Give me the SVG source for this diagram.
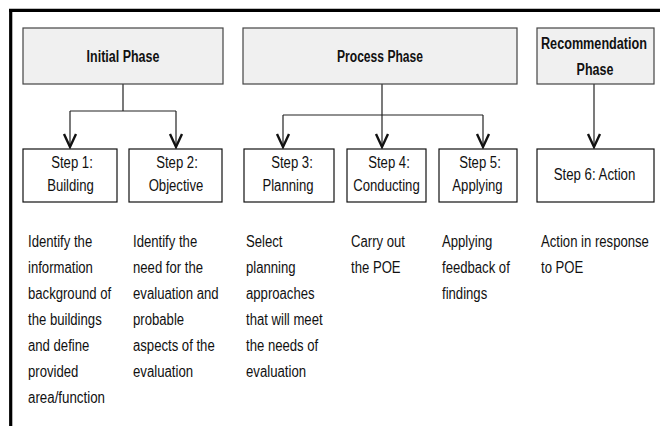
<svg xmlns="http://www.w3.org/2000/svg" width="660" height="426" viewBox="0 0 660 426">
<defs>
<style>
text{font-family:"Liberation Sans Narrow","Liberation Sans",Arial,sans-serif;font-size:16px;fill:#111}
.title{font-weight:bold;text-anchor:middle}
.step{text-anchor:middle}
.phase{fill:#f0f0f0;stroke:#444;stroke-width:1.2}
.box{fill:#fff;stroke:#111;stroke-width:1.2}
.conn{fill:none;stroke:#222;stroke-width:1.2}
.arr{fill:none;stroke:#222;stroke-width:1.2;marker-end:url(#v)}
</style>
<marker id="v" markerUnits="userSpaceOnUse" markerWidth="20" markerHeight="20" refX="0" refY="0" viewBox="-12 -10 14 20" orient="auto" overflow="visible">
<path d="M-13,-6 L0,0 L-13,6" fill="none" stroke="#111" stroke-width="2.4"/>
</marker>
</defs>
<g id="frame">
<line x1="9" y1="10.3" x2="660" y2="10.3" stroke="#000" stroke-width="3.2"/>
<line x1="10.7" y1="9" x2="10.7" y2="426" stroke="#000" stroke-width="3.2"/>
</g>
<g id="connectors">
<path class="conn" d="M123,84 V111 M70,111 H176"/>
<path class="arr" d="M70,111 V147"/>
<path class="arr" d="M176,111 V147"/>
<path class="conn" d="M283,115 H483"/>
<path class="arr" d="M382,84 V147"/>
<path class="arr" d="M283,115 V147"/>
<path class="arr" d="M483,115 V147"/>
<path class="arr" d="M594,84 V147"/>
</g>
<g id="initial-phase">
<rect class="phase" x="23" y="28" width="200" height="56"/>
<text class="title" x="123" y="62" textLength="72.8" lengthAdjust="spacingAndGlyphs">Initial Phase</text>
</g>
<g id="process-phase">
<rect class="phase" x="243" y="28" width="274" height="56"/>
<text class="title" x="380" y="62" textLength="86" lengthAdjust="spacingAndGlyphs">Process Phase</text>
</g>
<g id="recommendation-phase">
<rect class="phase" x="537" y="28" width="117" height="56"/>
<text class="title" x="594" y="49" textLength="106" lengthAdjust="spacingAndGlyphs">Recommendation</text>
<text class="title" x="595" y="75" textLength="36.8" lengthAdjust="spacingAndGlyphs">Phase</text>
</g>
<g id="step1">
<rect class="box" x="23" y="149" width="94" height="53"/>
<text class="step" x="72" y="168" textLength="41.6" lengthAdjust="spacingAndGlyphs">Step 1:</text>
<text class="step" x="70.5" y="191" textLength="46.7" lengthAdjust="spacingAndGlyphs">Building</text>
</g>
<g id="step2">
<rect class="box" x="129" y="149" width="93" height="53"/>
<text class="step" x="177" y="168" textLength="41.6" lengthAdjust="spacingAndGlyphs">Step 2:</text>
<text class="step" x="176" y="191" textLength="54.7" lengthAdjust="spacingAndGlyphs">Objective</text>
</g>
<g id="step3">
<rect class="box" x="244" y="149" width="90" height="53"/>
<text class="step" x="292" y="168" textLength="41.6" lengthAdjust="spacingAndGlyphs">Step 3:</text>
<text class="step" x="288" y="191" textLength="51.1" lengthAdjust="spacingAndGlyphs">Planning</text>
</g>
<g id="step4">
<rect class="box" x="347" y="149" width="79" height="53"/>
<text class="step" x="389" y="168" textLength="41.6" lengthAdjust="spacingAndGlyphs">Step 4:</text>
<text class="step" x="386.5" y="191" textLength="66.4" lengthAdjust="spacingAndGlyphs">Conducting</text>
</g>
<g id="step5">
<rect class="box" x="439" y="149" width="78" height="53"/>
<text class="step" x="480" y="168" textLength="41.6" lengthAdjust="spacingAndGlyphs">Step 5:</text>
<text class="step" x="477.5" y="191" textLength="50.3" lengthAdjust="spacingAndGlyphs">Applying</text>
</g>
<g id="step6">
<rect class="box" x="537" y="149" width="117" height="53"/>
<text class="step" x="594.5" y="180" textLength="81.7" lengthAdjust="spacingAndGlyphs">Step 6: Action</text>
</g>
<g id="desc1">
<text x="28" y="247" textLength="64.2" lengthAdjust="spacingAndGlyphs">Identify the</text>
<text x="28" y="273" textLength="64.9" lengthAdjust="spacingAndGlyphs">information</text>
<text x="28" y="299" textLength="83.1" lengthAdjust="spacingAndGlyphs">background of</text>
<text x="28" y="325" textLength="73.7" lengthAdjust="spacingAndGlyphs">the buildings</text>
<text x="28" y="351" textLength="61.3" lengthAdjust="spacingAndGlyphs">and define</text>
<text x="28" y="377" textLength="50.3" lengthAdjust="spacingAndGlyphs">provided</text>
<text x="28" y="403" textLength="77" lengthAdjust="spacingAndGlyphs">area/function</text>
</g>
<g id="desc2">
<text x="133" y="247" textLength="64.2" lengthAdjust="spacingAndGlyphs">Identify the</text>
<text x="133" y="273" textLength="70" lengthAdjust="spacingAndGlyphs">need for the</text>
<text x="133" y="299" textLength="85.6" lengthAdjust="spacingAndGlyphs">evaluation and</text>
<text x="133" y="325" textLength="51.1" lengthAdjust="spacingAndGlyphs">probable</text>
<text x="133" y="351" textLength="81.7" lengthAdjust="spacingAndGlyphs">aspects of the</text>
<text x="133" y="377" textLength="60.1" lengthAdjust="spacingAndGlyphs">evaluation</text>
</g>
<g id="desc3">
<text x="246" y="247" textLength="36.5" lengthAdjust="spacingAndGlyphs">Select</text>
<text x="246" y="273" textLength="49.6" lengthAdjust="spacingAndGlyphs">planning</text>
<text x="246" y="299" textLength="68.6" lengthAdjust="spacingAndGlyphs">approaches</text>
<text x="246" y="325" textLength="76.6" lengthAdjust="spacingAndGlyphs">that will meet</text>
<text x="246" y="351" textLength="72.2" lengthAdjust="spacingAndGlyphs">the needs of</text>
<text x="246" y="377" textLength="60.1" lengthAdjust="spacingAndGlyphs">evaluation</text>
</g>
<g id="desc4">
<text x="351" y="247" textLength="54" lengthAdjust="spacingAndGlyphs">Carry out</text>
<text x="351" y="273" textLength="49.6" lengthAdjust="spacingAndGlyphs">the POE</text>
</g>
<g id="desc5">
<text x="442" y="247" textLength="50.3" lengthAdjust="spacingAndGlyphs">Applying</text>
<text x="442" y="273" textLength="67.8" lengthAdjust="spacingAndGlyphs">feedback of</text>
<text x="442" y="299" textLength="45.2" lengthAdjust="spacingAndGlyphs">findings</text>
</g>
<g id="desc6">
<text x="541" y="247" textLength="107.9" lengthAdjust="spacingAndGlyphs">Action in response</text>
<text x="541" y="273" textLength="42.3" lengthAdjust="spacingAndGlyphs">to POE</text>
</g>
</svg>
